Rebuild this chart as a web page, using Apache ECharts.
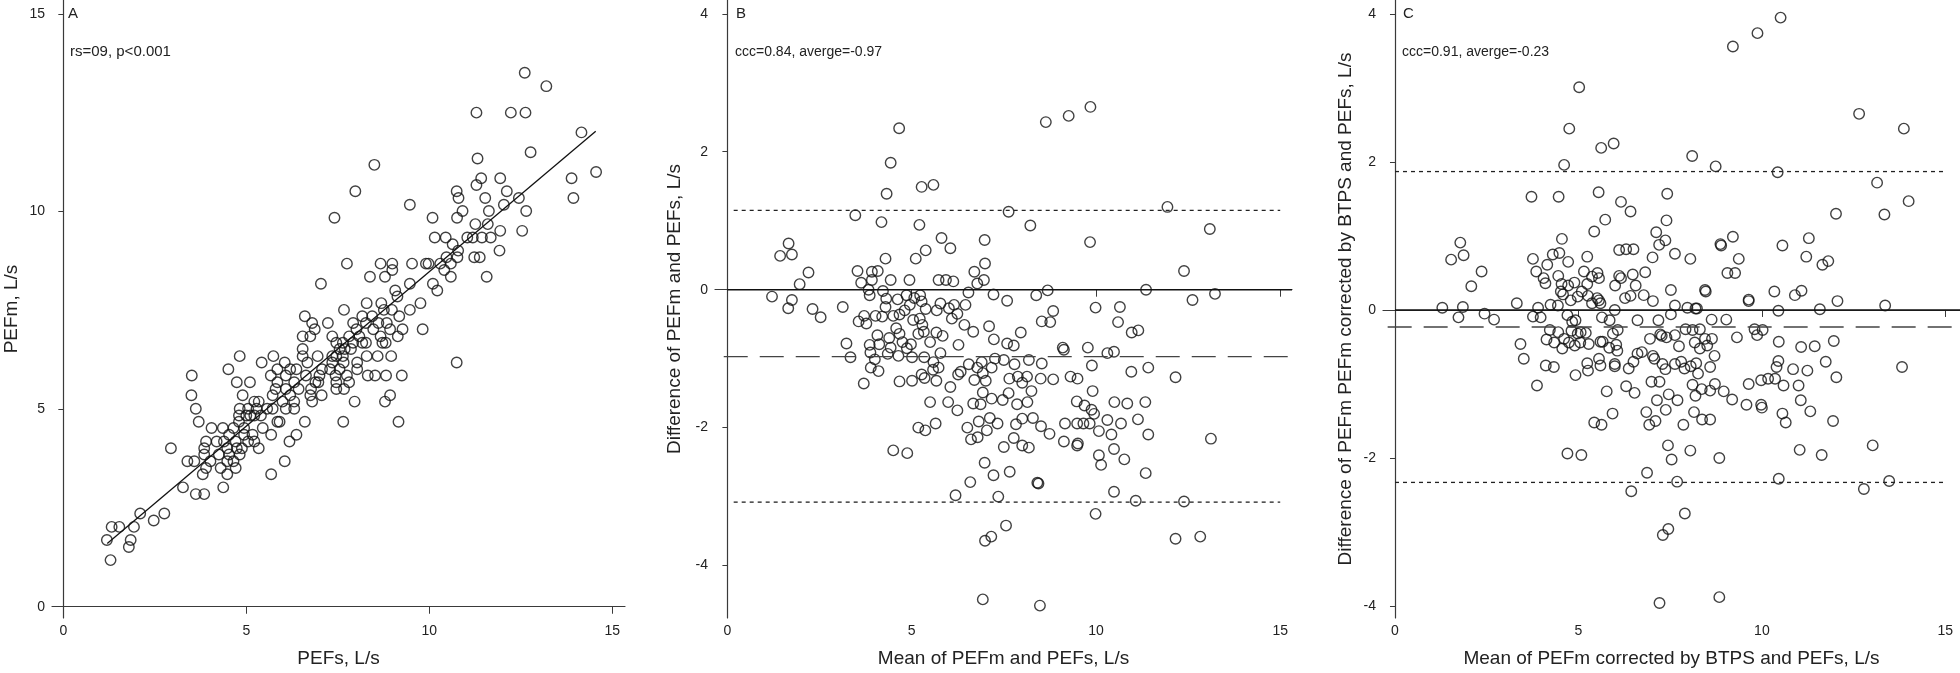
<!DOCTYPE html>
<html>
<head>
<meta charset="utf-8">
<script src="https://cdn.jsdelivr.net/npm/echarts@6/dist/echarts.min.js"></script>
<style>
html,body{margin:0;padding:0;background:#fff;}
#main{width:1960px;height:673px;}
</style>
</head>
<body>
<div id="main"></div>
<script>
// ---- data ----
var xTicks = [0, 5, 10, 15];
var yTicksA = [0, 5, 10, 15];
var yTicksBC = [-4, -2, 0, 2, 4];

// panel A: PEFs vs PEFm
var pointsA = [
[12.61,13.51],[13.2,13.17],[11.29,12.5],[12.23,12.5],[12.63,12.5],[14.16,12.0],[12.77,11.5],[8.5,11.18],[11.32,11.34],[14.56,11.0],
[13.89,10.84],[11.42,10.84],[11.94,10.84],[7.98,10.51],[11.29,10.67],[10.75,10.51],[12.12,10.51],[13.94,10.34],[10.8,10.34],[11.53,10.34],
[12.45,10.34],[12.04,10.17],[9.47,10.17],[10.91,10.01],[11.63,10.01],[12.65,10.01],[7.41,9.84],[10.09,9.84],[10.76,9.84],[11.26,9.68],
[11.6,9.68],[11.94,9.51],[12.54,9.51],[10.15,9.34],[10.45,9.34],[11.19,9.34],[11.44,9.34],[11.68,9.34],[11.04,9.34],[10.64,9.17],
[10.79,9.01],[11.92,9.01],[11.23,8.84],[11.38,8.84],[10.77,8.84],[10.47,8.84],[7.75,8.68],[8.67,8.68],[8.99,8.68],[9.53,8.68],
[9.91,8.68],[9.98,8.68],[10.3,8.68],[10.59,8.68],[10.41,8.52],[8.99,8.52],[8.38,8.35],[8.79,8.35],[10.59,8.35],[11.57,8.35],
[7.04,8.17],[9.47,8.17],[10.1,8.17],[10.22,8.0],[9.07,8.0],[9.13,7.85],[9.76,7.68],[8.29,7.68],[8.69,7.68],[9.47,7.51],
[7.67,7.51],[8.98,7.51],[8.76,7.51],[6.6,7.35],[8.17,7.35],[8.44,7.35],[9.18,7.35],[6.8,7.18],[7.23,7.18],[7.92,7.18],
[8.84,7.18],[8.61,7.18],[8.27,7.18],[6.87,7.02],[8.01,7.02],[8.47,7.02],[8.93,7.02],[9.27,7.02],[9.82,7.02],[6.54,6.84],
[6.75,6.84],[7.35,6.84],[7.81,6.84],[8.09,6.84],[8.67,6.84],[9.14,6.84],[7.46,6.68],[7.64,6.68],[7.92,6.68],[8.17,6.68],
[8.27,6.68],[8.72,6.68],[8.81,6.68],[6.54,6.52],[7.55,6.52],[7.69,6.52],[7.86,6.52],[6.54,6.34],[6.95,6.34],[7.35,6.34],
[7.46,6.34],[7.64,6.34],[8.29,6.34],[8.59,6.34],[8.96,6.34],[4.82,6.34],[5.74,6.34],[6.67,6.18],[7.35,6.18],[7.66,6.18],
[8.03,6.18],[10.75,6.18],[5.42,6.18],[6.05,6.18],[4.51,6.01],[5.85,6.01],[6.2,6.01],[6.37,6.01],[7.07,6.01],[7.29,6.01],
[7.55,6.01],[8.03,6.01],[3.51,5.85],[5.67,5.85],[6.08,5.85],[6.63,5.85],[7.0,5.85],[7.44,5.85],[7.75,5.85],[8.32,5.85],
[8.52,5.85],[8.82,5.85],[9.25,5.85],[4.74,5.68],[5.1,5.68],[5.85,5.68],[6.31,5.68],[6.89,5.68],[6.97,5.68],[7.46,5.68],
[7.81,5.68],[5.8,5.51],[6.08,5.51],[6.43,5.51],[6.77,5.51],[7.46,5.51],[7.67,5.51],[3.5,5.35],[4.9,5.35],[5.72,5.35],
[6.2,5.35],[6.75,5.35],[7.06,5.35],[8.93,5.35],[5.22,5.19],[5.34,5.19],[5.99,5.19],[6.31,5.19],[6.8,5.19],[7.96,5.19],
[8.79,5.19],[3.62,5.01],[4.82,5.01],[5.05,5.01],[5.28,5.01],[5.57,5.01],[5.72,5.01],[6.08,5.01],[6.31,5.01],[4.8,4.84],
[5.0,4.84],[5.11,4.84],[5.22,4.84],[5.4,4.84],[5.85,4.68],[5.91,4.68],[3.7,4.68],[4.8,4.68],[6.6,4.68],[7.65,4.68],
[9.16,4.68],[4.05,4.52],[4.36,4.52],[4.65,4.52],[4.94,4.52],[5.45,4.52],[4.53,4.35],[4.94,4.35],[5.17,4.35],[5.68,4.35],
[6.37,4.35],[3.9,4.18],[4.19,4.18],[4.39,4.18],[4.71,4.18],[5.05,4.18],[5.22,4.18],[6.18,4.18],[2.94,4.01],[3.85,4.01],
[4.48,4.01],[4.74,4.01],[4.88,4.01],[5.34,4.01],[3.85,3.85],[4.25,3.85],[4.53,3.85],[4.82,3.85],[3.39,3.68],[3.58,3.68],
[4.02,3.68],[4.48,3.68],[4.65,3.68],[6.05,3.68],[3.9,3.51],[4.3,3.51],[4.71,3.51],[3.81,3.35],[4.48,3.35],[5.68,3.35],
[3.27,3.02],[4.37,3.02],[3.62,2.85],[3.85,2.85],[2.1,2.36],[2.76,2.36],[2.47,2.18],[1.32,2.02],[1.53,2.02],[1.93,2.02],
[1.19,1.69],[1.84,1.69],[1.79,1.51],[1.29,1.18]
];
var fitA = [[1.2, 1.6], [14.55, 12.03]];

// panel B: mean vs difference
var pointsB = [
[4.66,2.34],[4.43,1.84],[4.32,1.39],[5.27,1.49],[5.59,1.52],[8.64,2.43],[9.26,2.52],[9.85,2.65],[3.47,1.08],[4.18,0.98],
[5.21,0.94],[7.63,1.13],[8.22,0.93],[11.94,1.2],[13.09,0.88],[1.66,0.67],[1.43,0.49],[1.75,0.51],[4.29,0.45],[5.11,0.45],
[5.38,0.57],[5.81,0.75],[6.05,0.6],[6.98,0.72],[6.99,0.38],[9.84,0.69],[2.2,0.25],[3.53,0.27],[3.92,0.26],[4.08,0.27],
[6.7,0.26],[12.39,0.27],[1.96,0.08],[3.63,0.1],[3.92,0.14],[4.43,0.14],[4.94,0.14],[5.73,0.14],[5.93,0.14],[6.13,0.12],
[6.78,0.09],[6.96,0.14],[1.21,-0.1],[3.83,0.0],[3.86,-0.08],[4.22,-0.02],[4.31,-0.13],[4.62,-0.14],[4.86,-0.08],[5.07,-0.12],
[5.23,-0.08],[5.27,-0.17],[6.54,-0.04],[7.22,-0.07],[8.38,-0.08],[8.69,-0.01],[11.36,0.0],[13.23,-0.06],[1.65,-0.27],[1.75,-0.15],
[2.31,-0.28],[2.53,-0.4],[3.13,-0.25],[3.56,-0.46],[3.71,-0.38],[3.77,-0.49],[4.02,-0.38],[4.2,-0.39],[4.29,-0.25],[4.5,-0.38],
[4.67,-0.36],[4.81,-0.3],[4.95,-0.22],[5.04,-0.44],[5.22,-0.42],[5.29,-0.51],[5.38,-0.28],[5.68,-0.3],[5.78,-0.2],[6.01,-0.27],
[6.15,-0.22],[6.09,-0.42],[6.24,-0.35],[6.46,-0.22],[6.43,-0.51],[7.59,-0.16],[8.53,-0.46],[8.76,-0.47],[8.84,-0.31],[9.99,-0.26],
[10.65,-0.25],[10.6,-0.47],[12.62,-0.15],[3.23,-0.78],[3.34,-0.98],[3.86,-0.8],[4.07,-0.66],[4.12,-0.79],[4.39,-0.7],[4.43,-0.84],
[4.58,-0.56],[4.67,-0.64],[4.75,-0.76],[4.87,-0.85],[4.98,-0.79],[5.18,-0.64],[5.33,-0.61],[5.5,-0.76],[5.67,-0.62],[5.84,-0.67],
[6.27,-0.8],[6.67,-0.61],[7.1,-0.53],[7.23,-0.72],[7.59,-0.78],[7.77,-0.81],[7.96,-0.62],[9.1,-0.84],[9.13,-0.87],[9.78,-0.84],
[10.31,-0.92],[10.49,-0.9],[10.97,-0.62],[11.15,-0.59],[3.88,-0.91],[4.0,-1.01],[4.35,-0.93],[4.64,-0.96],[5.01,-0.98],[5.34,-0.98],
[5.59,-1.05],[5.78,-0.92],[3.89,-1.13],[4.1,-1.18],[3.7,-1.36],[4.67,-1.33],[5.01,-1.32],[5.27,-1.23],[5.35,-1.28],[5.67,-1.32],
[5.58,-1.16],[5.73,-1.13],[6.05,-1.41],[6.26,-1.23],[6.33,-1.19],[6.55,-1.08],[6.7,-1.31],[6.78,-1.13],[6.9,-1.05],[6.93,-1.21],
[7.01,-1.32],[7.17,-1.13],[7.26,-1.0],[7.5,-1.02],[7.65,-1.29],[7.79,-1.08],[7.88,-1.26],[8.0,-1.35],[8.18,-1.02],[8.13,-1.26],
[8.53,-1.07],[8.5,-1.29],[8.84,-1.3],[9.31,-1.26],[9.5,-1.29],[9.89,-1.1],[10.96,-1.19],[11.42,-1.13],[12.16,-1.27],[6.93,-1.49],
[7.17,-1.58],[7.47,-1.6],[7.63,-1.5],[7.86,-1.66],[8.25,-1.47],[8.14,-1.63],[9.91,-1.47],[5.5,-1.63],[5.99,-1.63],[6.24,-1.75],
[6.67,-1.65],[6.87,-1.66],[9.48,-1.62],[9.69,-1.68],[9.88,-1.74],[9.95,-1.8],[10.5,-1.63],[10.85,-1.65],[11.34,-1.63],[5.18,-2.0],
[5.37,-2.04],[5.65,-1.94],[6.51,-2.0],[6.82,-1.91],[7.04,-2.04],[7.12,-1.86],[7.33,-1.94],[7.83,-1.95],[8.0,-1.87],[8.29,-1.86],
[8.51,-1.98],[8.74,-2.09],[9.16,-1.94],[9.49,-1.94],[9.66,-1.94],[9.83,-1.94],[10.08,-2.05],[10.31,-1.89],[10.42,-2.1],[10.68,-1.94],
[11.14,-1.88],[11.42,-2.1],[6.61,-2.17],[6.79,-2.14],[7.77,-2.15],[8.0,-2.26],[8.18,-2.29],[7.5,-2.28],[9.13,-2.2],[9.49,-2.26],
[9.51,-2.23],[10.49,-2.31],[13.12,-2.16],[4.5,-2.33],[4.88,-2.37],[10.08,-2.4],[10.14,-2.54],[10.77,-2.46],[6.98,-2.51],[7.22,-2.69],
[7.66,-2.64],[6.59,-2.79],[8.41,-2.8],[8.44,-2.81],[11.35,-2.66],[10.49,-2.93],[6.19,-2.98],[7.35,-3.0],[11.08,-3.06],[12.39,-3.07],
[9.99,-3.25],[7.56,-3.42],[7.16,-3.58],[6.99,-3.64],[12.16,-3.61],[12.83,-3.58],[6.93,-4.49],[8.48,-4.58]
];
var meanB = -0.97, upperB = 1.15, lowerB = -3.08;

// panel C: mean (BTPS corrected) vs difference
var pointsC = [
[10.51,3.95],[9.88,3.74],[9.21,3.56],[5.02,3.01],[12.65,2.65],[13.87,2.45],[4.75,2.45],[5.62,2.19],[5.96,2.25],[8.1,2.08],
[8.74,1.94],[10.43,1.86],[4.61,1.96],[3.72,1.53],[4.46,1.53],[5.55,1.59],[7.42,1.57],[13.14,1.72],[14.0,1.47],[6.16,1.46],
[6.42,1.33],[12.02,1.3],[13.34,1.29],[5.73,1.22],[7.4,1.21],[5.43,1.06],[7.12,1.05],[7.37,0.94],[7.2,0.88],[4.55,0.96],
[9.21,0.99],[8.87,0.89],[8.89,0.87],[11.28,0.97],[10.56,0.87],[1.78,0.91],[1.53,0.68],[1.87,0.74],[2.36,0.52],[3.76,0.69],
[4.3,0.75],[4.48,0.77],[4.15,0.61],[4.72,0.65],[5.24,0.72],[6.11,0.81],[6.3,0.82],[6.5,0.82],[7.02,0.71],[7.63,0.76],
[8.05,0.69],[9.37,0.69],[11.21,0.72],[11.65,0.61],[11.81,0.66],[3.85,0.52],[4.05,0.43],[4.1,0.36],[4.45,0.46],[4.54,0.35],
[4.72,0.33],[4.89,0.37],[5.15,0.52],[5.24,0.35],[5.37,0.45],[5.52,0.5],[5.56,0.43],[6.11,0.46],[6.16,0.43],[6.48,0.48],
[6.56,0.33],[6.0,0.33],[6.82,0.51],[9.06,0.5],[9.27,0.5],[2.08,0.32],[4.52,0.25],[4.58,0.21],[4.79,0.13],[4.98,0.18],
[5.09,0.25],[5.26,0.19],[5.37,0.09],[5.51,0.16],[5.56,0.13],[5.6,0.09],[6.27,0.16],[6.42,0.19],[6.78,0.2],[7.03,0.12],
[7.52,0.27],[7.63,0.06],[8.45,0.27],[8.47,0.25],[9.64,0.14],[9.64,0.12],[10.34,0.25],[10.9,0.2],[11.08,0.26],[12.06,0.12],
[13.36,0.06],[1.29,0.03],[1.85,0.04],[3.32,0.09],[3.9,0.03],[4.24,0.07],[4.44,0.06],[7.97,0.03],[8.19,0.02],[8.23,0.02],
[10.45,-0.01],[11.58,0.01],[1.73,-0.1],[2.44,-0.05],[2.7,-0.13],[3.76,-0.09],[3.97,-0.1],[4.7,-0.07],[4.83,-0.16],[4.92,-0.14],
[5.64,-0.1],[5.85,-0.14],[5.99,0.0],[6.61,-0.14],[7.18,-0.14],[7.52,-0.06],[8.63,-0.13],[9.03,-0.13],[4.22,-0.27],[4.45,-0.3],
[4.61,-0.39],[4.81,-0.28],[4.98,-0.32],[5.06,-0.3],[5.2,-0.31],[5.94,-0.32],[6.07,-0.27],[6.95,-0.39],[7.23,-0.33],[7.27,-0.35],
[7.4,-0.37],[7.63,-0.34],[7.92,-0.26],[8.11,-0.27],[8.31,-0.26],[8.45,-0.39],[8.64,-0.39],[9.32,-0.37],[9.8,-0.26],[9.87,-0.34],
[10.02,-0.27],[10.46,-0.43],[11.96,-0.42],[3.42,-0.46],[4.13,-0.4],[4.34,-0.44],[4.56,-0.52],[4.74,-0.44],[4.9,-0.48],[5.05,-0.44],
[5.28,-0.46],[5.6,-0.43],[5.66,-0.43],[5.84,-0.51],[6.03,-0.47],[6.06,-0.55],[7.74,-0.49],[8.17,-0.44],[8.31,-0.52],[8.51,-0.48],
[8.71,-0.62],[11.07,-0.5],[11.44,-0.49],[3.51,-0.66],[4.11,-0.75],[4.33,-0.77],[5.24,-0.72],[5.26,-0.82],[5.56,-0.66],[5.6,-0.75],
[5.99,-0.73],[5.99,-0.76],[6.37,-0.79],[6.5,-0.7],[6.61,-0.59],[6.73,-0.57],[7.03,-0.62],[7.07,-0.66],[7.29,-0.73],[7.37,-0.8],
[7.63,-0.73],[7.8,-0.7],[7.89,-0.79],[8.06,-0.76],[8.21,-0.72],[8.26,-0.86],[8.59,-0.77],[10.4,-0.77],[10.45,-0.69],[10.85,-0.8],
[11.24,-0.82],[11.74,-0.7],[13.82,-0.77],[12.03,-0.91],[3.87,-1.02],[4.92,-0.88],[6.99,-0.97],[7.21,-0.97],[8.11,-1.01],[8.72,-1.0],
[9.64,-1.0],[9.98,-0.95],[10.17,-0.93],[10.36,-0.93],[10.59,-1.02],[11.0,-1.02],[5.77,-1.1],[6.53,-1.12],[6.3,-1.03],[7.46,-1.14],
[7.7,-1.22],[8.19,-1.16],[8.36,-1.07],[8.59,-1.09],[8.96,-1.1],[9.19,-1.21],[9.58,-1.28],[9.98,-1.28],[10.0,-1.32],[11.06,-1.22],
[7.14,-1.22],[6.85,-1.38],[7.38,-1.35],[5.93,-1.4],[8.15,-1.38],[10.56,-1.4],[11.32,-1.37],[5.43,-1.52],[5.63,-1.55],[6.93,-1.55],
[7.1,-1.5],[7.86,-1.55],[8.37,-1.48],[8.59,-1.48],[10.65,-1.52],[11.94,-1.5],[4.7,-1.94],[5.08,-1.96],[7.44,-1.83],[8.05,-1.9],
[7.54,-2.02],[8.84,-2.0],[11.03,-1.89],[11.63,-1.96],[13.02,-1.83],[6.87,-2.2],[7.69,-2.32],[10.46,-2.28],[13.47,-2.31],[6.44,-2.45],
[12.78,-2.42],[7.9,-2.75],[7.45,-2.96],[7.3,-3.04],[7.21,-3.96],[8.84,-3.88]
];
var meanC = -0.23, upperC = 1.87, lowerC = -2.33;

var FONT = '"Liberation Sans", Arial, Helvetica, sans-serif';
var AX = '#3a3a3a';

function xAxisCfg(idx, min, max, name) {
	return {
		type: 'value', gridIndex: idx, min: min, max: max,
		name: name, nameLocation: 'middle', nameGap: 31,
		nameTextStyle: {fontFamily: FONT, fontSize: 19, color: '#222'},
		axisLine: {lineStyle: {color: AX, width: 1.2}},
		axisTick: {length: 7, lineStyle: {color: AX, width: 1}, customValues: xTicks},
		axisLabel: {fontFamily: FONT, fontSize: 14, color: '#222', margin: 6, customValues: xTicks},
		splitLine: {show: false}
	};
}
function yAxisCfg(idx, min, max, ticks, name, gap) {
	return {
		type: 'value', gridIndex: idx, min: min, max: max,
		name: name, nameLocation: 'middle', nameGap: gap, nameRotate: 90,
		nameTextStyle: {fontFamily: FONT, fontSize: 19, color: '#222'},
		axisLine: {lineStyle: {color: AX, width: 1.2}},
		axisTick: {length: 5, lineStyle: {color: AX, width: 1}, customValues: ticks},
		axisLabel: {fontFamily: FONT, fontSize: 14, color: '#222', margin: 7, customValues: ticks},
		splitLine: {show: false}
	};
}
function scatter(idx, data) {
	return {
		type: 'scatter', xAxisIndex: idx, yAxisIndex: idx, data: data,
		symbol: 'circle', symbolSize: 10.5, silent: true,
		itemStyle: {color: 'rgba(0,0,0,0)', borderColor: '#111', borderWidth: 1.4}
	};
}
function hline(idx, y, x0, x1, type, color, width) {
	return {
		type: 'line', xAxisIndex: idx, yAxisIndex: idx, data: [[x0, y], [x1, y]],
		symbol: 'none', silent: true,
		lineStyle: {color: color, width: width, type: type}
	};
}

var dom = document.getElementById('main');
var myChart = echarts.init(dom, null, {renderer: 'canvas'});
var option = {
	animation: false,
	backgroundColor: '#fff',
	grid: [
		{left: 52, top: 0, width: 573, height: 620},
		{left: 715, top: 0, width: 577, height: 620},
		{left: 1383, top: 0, width: 577, height: 620}
	],
	xAxis: [
		xAxisCfg(0, -0.31, 15.35, 'PEFs, L/s'),
		xAxisCfg(1, -0.337, 15.32, 'Mean of PEFm and PEFs, L/s'),
		xAxisCfg(2, -0.327, 15.4, 'Mean of PEFm corrected by BTPS and PEFs, L/s')
	],
	yAxis: [
		yAxisCfg(0, -0.285, 15.35, yTicksA, 'PEFm, L/s', 31),
		yAxisCfg(1, -4.76, 4.2, yTicksBC, 'Difference of PEFm and PEFs, L/s', 31),
		yAxisCfg(2, -4.162, 4.188, yTicksBC, 'Difference of PEFm PEFm corrected by BTPS and PEFs, L/s', 28)
	],
	graphic: [
		{type: 'text', left: 68, top: 6, style: {text: 'A', font: '15px ' + FONT, fill: '#222'}},
		{type: 'text', left: 70, top: 44, style: {text: 'rs=09, p<0.001', font: '15px ' + FONT, fill: '#222'}},
		{type: 'text', left: 736, top: 6, style: {text: 'B', font: '15px ' + FONT, fill: '#222'}},
		{type: 'text', left: 735, top: 45, style: {text: 'ccc=0.84, averge=-0.97', font: '14px ' + FONT, fill: '#222'}},
		{type: 'text', left: 1403, top: 6, style: {text: 'C', font: '15px ' + FONT, fill: '#222'}},
		{type: 'text', left: 1402, top: 45, style: {text: 'ccc=0.91, averge=-0.23', font: '14px ' + FONT, fill: '#222'}}
	],
	series: [
		scatter(0, pointsA),
		{
			type: 'line', xAxisIndex: 0, yAxisIndex: 0, data: fitA,
			symbol: 'none', silent: true, lineStyle: {color: '#111', width: 1.3}
		},
		scatter(1, pointsB),
		hline(1, 0, 0, 15.32, 'solid', '#111', 1.4),
		hline(1, meanB, -0.1, 15.32, [24, 12], '#444', 1.4),
		hline(1, upperB, 0.17, 15, [4, 4], '#222', 1.3),
		hline(1, lowerB, 0.17, 15, [4, 4], '#222', 1.3),
		scatter(2, pointsC),
		hline(2, 0, 0, 15.4, 'solid', '#111', 1.4),
		hline(2, meanC, -0.2, 15.4, [24, 12], '#444', 1.4),
		hline(2, upperC, 0, 15, [4, 4], '#222', 1.3),
		hline(2, lowerC, 0, 15, [4, 4], '#222', 1.3)
	]
};
myChart.setOption(option, true);
</script>
</body>
</html>
